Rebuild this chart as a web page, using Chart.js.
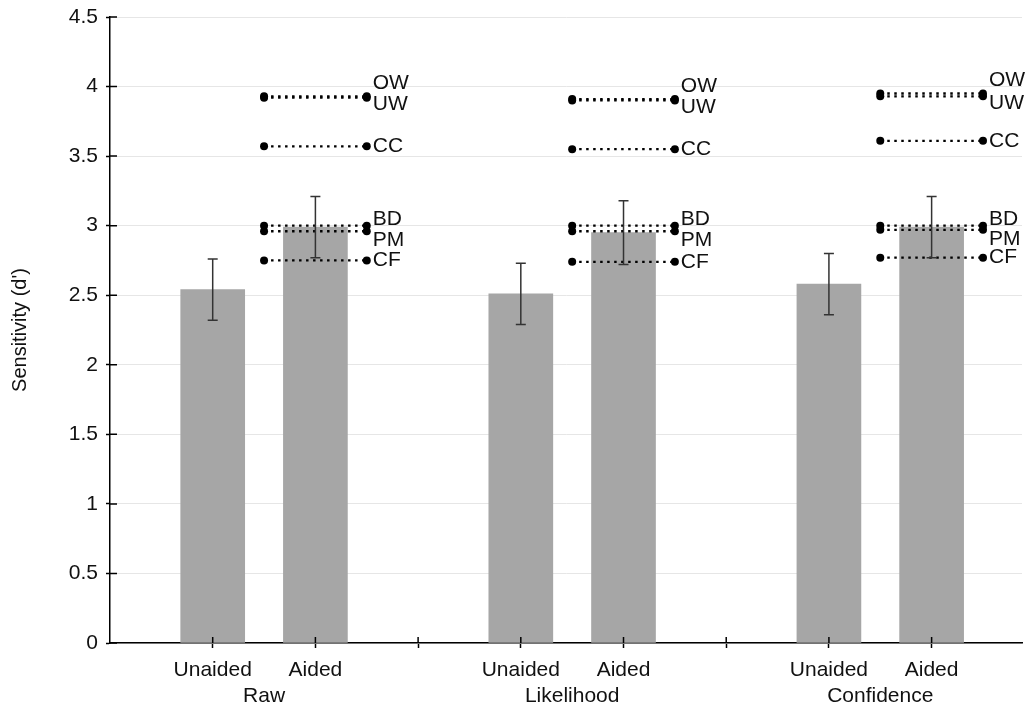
<!DOCTYPE html>
<html>
<head>
<meta charset="utf-8">
<script src="https://cdn.jsdelivr.net/npm/chart.js@4.4.0/dist/chart.umd.min.js"></script>
<style>
  html, body { margin: 0; padding: 0; background: #fff; }
</style>
</head>
<body>
<canvas id="myChart" width="1028" height="709"></canvas>
<script>
// groups along the x axis and the two bars inside each group
const groups = ['Raw', 'Likelihood', 'Confidence'];
const conditions = ['Unaided', 'Aided'];

// bar heights and error bar half-widths
const unaided = [2.54, 2.51, 2.58];
const aided = [2.99, 2.95, 2.99];
const unaidedErr = [0.22, 0.22, 0.22];
const aidedErr = [0.22, 0.23, 0.22];

// dotted reference lines per group
const refLabels = ['OW', 'UW', 'CC', 'BD', 'PM', 'CF'];
const refRaw = [3.93, 3.92, 3.57, 3.00, 2.96, 2.75];
const refLikelihood = [3.91, 3.90, 3.55, 3.00, 2.96, 2.74];
const refConfidence = [3.95, 3.93, 3.61, 3.00, 2.97, 2.77];
const refValues = [refRaw, refLikelihood, refConfidence];

const yTitle = "Sensitivity (d')";

// label nudges so overlapping names stay readable
const labelShift = { OW: -13, UW: 7, CC: 0, BD: -6, PM: 9, CF: 0 };

Chart.defaults.font.family = '"Liberation Sans", Arial, sans-serif';
Chart.defaults.color = '#111';

const barData = [];
for (let i = 0; i < groups.length; i++) {
    barData.push({ x: 3 * i + 1, y: unaided[i] });
    barData.push({ x: 3 * i + 2, y: aided[i] });
}

const datasets = [{
    type: 'bar',
    data: barData,
    backgroundColor: '#a6a6a6',
    barThickness: 64,
    order: 10
}];

for (let i = 0; i < groups.length; i++) {
    for (let k = 0; k < refLabels.length; k++) {
        datasets.push({
            type: 'line',
            label: refLabels[k],
            data: [{ x: 3 * i + 1.5, y: refValues[i][k] }, { x: 3 * i + 2.5, y: refValues[i][k] }],
            borderColor: '#000',
            borderWidth: 2.3,
            borderDash: [2.5, 4.5],
            pointRadius: 4,
            pointBackgroundColor: '#000',
            pointBorderWidth: 0,
            order: 1
        });
    }
}

const extras = {
    id: 'extras',
    afterDatasetsDraw(chart) {
        const { ctx, chartArea } = chart;
        const x = chart.scales.x, y = chart.scales.y;
        ctx.save();

        // error bars
        ctx.strokeStyle = '#333';
        ctx.lineWidth = 1.5;
        for (let i = 0; i < groups.length; i++) {
            const bars = [[unaided[i], unaidedErr[i], 3 * i + 1], [aided[i], aidedErr[i], 3 * i + 2]];
            bars.forEach(([m, e, pos]) => {
                const px = x.getPixelForValue(pos);
                const top = y.getPixelForValue(m + e), bot = y.getPixelForValue(m - e);
                ctx.beginPath();
                ctx.moveTo(px, top); ctx.lineTo(px, bot);
                ctx.moveTo(px - 5, top); ctx.lineTo(px + 5, top);
                ctx.moveTo(px - 5, bot); ctx.lineTo(px + 5, bot);
                ctx.stroke();
            });
        }

        // names of the reference lines
        ctx.fillStyle = '#111';
        ctx.font = '21px "Liberation Sans", Arial, sans-serif';
        ctx.textAlign = 'left';
        ctx.textBaseline = 'middle';
        for (let i = 0; i < groups.length; i++) {
            for (let k = 0; k < refLabels.length; k++) {
                const px = x.getPixelForValue(3 * i + 2.5);
                const py = y.getPixelForValue(refValues[i][k]);
                ctx.fillText(refLabels[k], px + 6, py + labelShift[refLabels[k]]);
            }
        }

        // group names under the tick labels
        ctx.textAlign = 'center';
        for (let i = 0; i < groups.length; i++) {
            ctx.fillText(groups[i], x.getPixelForValue(3 * i + 1.5), chartArea.bottom + 53);
        }

        // inner halves of the tick marks
        ctx.strokeStyle = '#000';
        ctx.lineWidth = 1.5;
        ctx.beginPath();
        y.ticks.forEach(t => {
            const py = y.getPixelForValue(t.value);
            ctx.moveTo(chartArea.left, py); ctx.lineTo(chartArea.left + 7, py);
        });
        x.ticks.forEach(t => {
            const px = x.getPixelForValue(t.value);
            ctx.moveTo(px, chartArea.bottom); ctx.lineTo(px, chartArea.bottom - 6);
        });
        ctx.stroke();
        ctx.restore();
    }
};

const config = {
    type: 'bar',
    data: { datasets: datasets },
    options: {
        responsive: false,
        animation: false,
        layout: { padding: { top: 17, right: 6, left: 0, bottom: 0 } },
        plugins: { legend: { display: false }, tooltip: { enabled: false } },
        scales: {
            x: {
                type: 'linear',
                min: 0,
                max: 8.88,
                offset: false,
                grid: { display: true, offset: false, drawOnChartArea: false, tickLength: 5, tickColor: '#000', tickWidth: 1.5 },
                border: { color: '#000', width: 1.5 },
                afterBuildTicks: (axis) => {
                    axis.ticks = [1, 2, 3, 4, 5, 6, 7, 8].map(v => ({ value: v }));
                },
                afterFit: (scale) => { scale.height = 66; },
                ticks: {
                    autoSkip: false,
                    maxRotation: 0,
                    padding: 10,
                    font: { size: 21 },
                    color: '#111',
                    callback: (value) => {
                        const r = Math.round(value) % 3;
                        if (r === 1) return conditions[0];
                        if (r === 2) return conditions[1];
                        return '';
                    }
                }
            },
            y: {
                min: 0,
                max: 4.5,
                grid: { color: '#e6e6e6', lineWidth: 1, tickLength: 4, tickColor: '#000', tickWidth: 1.5 },
                border: { color: '#000', width: 1.5 },
                afterFit: (scale) => {
                    scale.width = 110;
                    scale.paddingTop = 0;
                    scale.paddingBottom = 0;
                },
                ticks: {
                    stepSize: 0.5,
                    padding: 8,
                    font: { size: 21 },
                    color: '#111',
                    callback: (value) => String(value)
                },
                title: {
                    display: true,
                    text: yTitle,
                    font: { size: 20 },
                    color: '#111',
                    padding: { top: 8, bottom: 0 }
                }
            }
        }
    },
    plugins: [extras]
};

var myChart = new Chart(document.getElementById('myChart'), config);
</script>
</body>
</html>
